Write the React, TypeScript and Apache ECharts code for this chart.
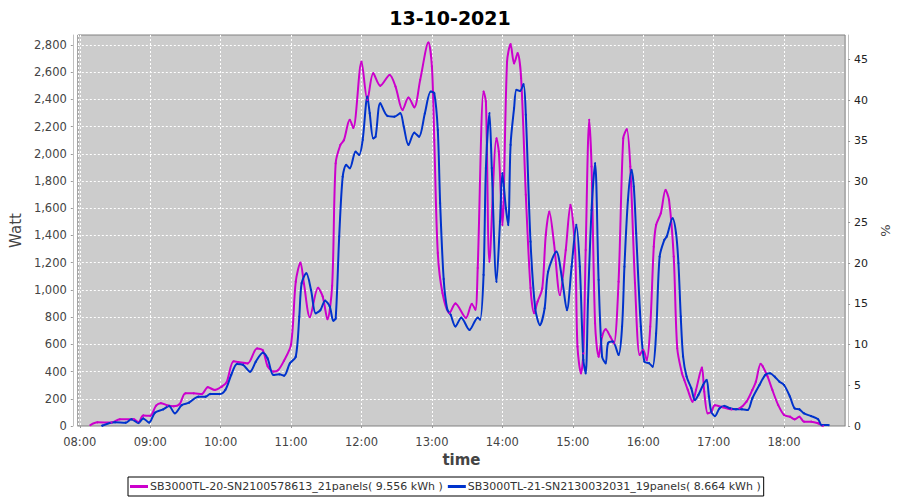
import React, { useEffect, useRef } from "react";
import * as echarts from "echarts";

const titleText = "13-10-2021";
const seriesNames = [
  "SB3000TL-20-SN2100578613_21panels( 9.556 kWh )",
  "SB3000TL-21-SN2130032031_19panels( 8.664 kWh )",
];
const wattTicks = { min: 0, max: 2873, interval: 200 };
const pctTicks = { min: 0, max: 48, interval: 5 };

const magentaTimes = [
  "08:09","08:15","08:27","08:34","08:46","08:50","08:54","09:00","09:05","09:09",
  "09:15","09:20","09:25","09:30","09:37","09:44","09:49","09:55","10:01","10:05",
  "10:11","10:15","10:23","10:31","10:36","10:40","10:45","10:49","10:54","11:00",
  "11:04","11:08","11:11","11:16","11:23","11:27","11:31","11:35","11:38","11:42",
  "11:45","11:50","11:53","12:00","12:05","12:10","12:16","12:24","12:29","12:35",
  "12:40","12:45","12:50","12:57","13:00","13:02","13:05","13:09","13:15","13:20",
  "13:29","13:34","13:37","13:39","13:44","13:46","13:49","13:55","13:57","14:00",
  "14:04","14:07","14:10","14:13","14:16","14:20","14:24","14:27","14:30","14:34",
  "14:37","14:40","14:44","14:49","14:54","14:58","15:02","15:04","15:07","15:09",
  "15:11","15:14","15:16","15:19","15:22","15:25","15:28","15:32","15:35","15:39",
  "15:43","15:46","15:49","15:53","15:57","16:00","16:03","16:06","16:09","16:11",
  "16:15","16:19","16:22","16:26","16:29","16:33","16:35","16:38","16:42","16:45",
  "16:50","16:52","16:55","16:58","17:01","17:08","17:15","17:22","17:28","17:33",
  "17:36","17:40","17:42","17:46","17:50","17:55","18:00","18:05","18:09","18:13",
  "18:17","18:23","18:29","18:33",
];
const magentaWatts = [
  7, 27, 25, 49, 50, 27, 77, 75, 150, 168,
  150, 145, 160, 240, 240, 235, 285, 265, 290, 320,
  475, 470, 460, 570, 555, 440, 400, 410, 480, 600,
  1060, 1200, 1045, 800, 1015, 950, 785, 1030, 1930, 2065,
  2100, 2250, 2190, 2677, 2396, 2592, 2500, 2580, 2494, 2322,
  2413, 2342, 2543, 2817, 2640, 2102, 1271, 977, 830, 900,
  795, 897, 855, 1161, 2457, 2383, 1208, 2114, 2016, 1477,
  2677, 2805, 2665, 2739, 2555, 1698, 1014, 830, 914, 1012,
  1404, 1575, 1343, 963, 1293, 1624, 1293, 583, 387, 534,
  1293, 2249, 1906, 755, 509, 656, 710, 656, 608, 1060,
  2114, 2180, 1906, 1049, 522, 559, 485, 730, 1318, 1477,
  1563, 1734, 1661, 1244, 571, 387, 338, 265, 179, 265,
  429, 252, 93, 105, 152, 137, 123, 130, 179, 265,
  326, 456, 436, 362, 265, 154, 81, 68, 49, 68,
  32, 32, 20, 0,
];

const blueTimes = [
  "08:19","08:30","08:39","08:44","08:50","08:54","08:59","09:04","09:11","09:16",
  "09:21","09:27","09:33","09:41","09:47","09:51","09:59","10:04","10:09","10:14",
  "10:19","10:25","10:30","10:36","10:40","10:45","10:50","10:54","10:59","11:04",
  "11:07","11:09","11:13","11:17","11:21","11:25","11:29","11:33","11:36","11:38",
  "11:41","11:44","11:47","11:50","11:55","11:58","12:01","12:05","12:07","12:10",
  "12:12","12:16","12:22","12:28","12:33","12:36","12:40","12:45","12:49","12:54",
  "12:59","13:02","13:05","13:07","13:10","13:13","13:16","13:20","13:25","13:32",
  "13:39","13:41","13:44","13:46","13:49","13:51","13:55","13:58","14:00","14:03",
  "14:05","14:07","14:10","14:12","14:15","14:18","14:20","14:24","14:28","14:32",
  "14:36","14:39","14:46","14:51","14:55","14:59","15:03","15:06","15:09","15:11",
  "15:13","15:16","15:19","15:22","15:25","15:28","15:30","15:34","15:39","15:42",
  "15:44","15:47","15:50","15:52","15:54","15:58","16:01","16:05","16:08","16:11",
  "16:14","16:18","16:20","16:25","16:28","16:30","16:32","16:34","16:37","16:41",
  "16:44","16:47","16:51","16:54","16:56","16:58","17:01","17:05","17:09","17:14",
  "17:19","17:24","17:29","17:33","17:39","17:44","17:48","17:52","17:56","18:00",
  "18:05","18:09","18:13","18:17","18:23","18:29","18:32","18:38",
];
const blueWatts = [
  2, 27, 24, 49, 22, 56, 25, 98, 122, 147,
  93, 154, 171, 215, 215, 235, 235, 265, 375, 456,
  450, 399, 473, 539, 497, 375, 380, 370, 461, 509,
  803, 1049, 1122, 999, 828, 852, 921, 877, 774, 790,
  1391, 1832, 1918, 1894, 2016, 1992, 2102, 2420, 2298, 2114,
  2126, 2371, 2278, 2273, 2298, 2200, 2065, 2155, 2126, 2298,
  2457, 2445, 2175, 1637, 1080, 860, 816, 732, 796, 706,
  796, 782, 1110, 1894, 2298, 1894, 1060, 1501, 1857, 1600,
  1477, 2065, 2335, 2469, 2462, 2511, 2286, 1354, 865, 742,
  865, 1134, 1281, 1073, 852, 1171, 1477, 1171, 485, 387,
  926, 1587, 1930, 1073, 509, 461, 608, 620, 522, 730,
  1171, 1661, 1881, 1759, 1416, 730, 473, 461, 436, 681,
  1244, 1367, 1391, 1526, 1416, 1196, 803, 509, 362, 277,
  191, 228, 301, 338, 216, 105, 73, 130, 147, 130,
  123, 123, 118, 204, 301, 375, 387, 362, 326, 301,
  216, 130, 123, 93, 73, 49, 7, 7,
];

const ts = (s: string, sec = 0) => {
  const [h, m] = s.split(":").map(Number);
  return new Date(2021, 9, 13, h, m, sec).getTime();
};

const FONT = "DejaVu Sans";

export default function App() {
  const ref = useRef<HTMLDivElement>(null);
  useEffect(() => {
    document.body.style.margin = "0";
    if (!ref.current) return;
    const chart = echarts.init(ref.current, undefined, { renderer: "svg" });
    const mData = magentaTimes.map((t, i) => [ts(t), magentaWatts[i]]);
    const bData = blueTimes.map((t, i) => [ts(t), blueWatts[i]]);
    chart.setOption({
      animation: false,
      backgroundColor: "#ffffff",
      textStyle: { fontFamily: FONT },
      title: {
        text: titleText,
        left: "center",
        top: 3,
        textStyle: { fontFamily: FONT, fontSize: 19, fontWeight: "bold", color: "#000" },
      },
      grid: {
        left: 76,
        right: 54,
        top: 35,
        bottom: 74,
        show: true,
        backgroundColor: "#cccccc",
        borderColor: "#808080",
        borderWidth: 1,
      },
      legend: {
        left: 128,
        top: 477,
        orient: "horizontal",
        backgroundColor: "#ffffff",
        borderColor: "#000000",
        borderWidth: 1,
        padding: [4, 3, 4, 2],
        itemGap: 5,
        itemWidth: 18,
        itemHeight: 3,
        icon: "rect",
        textStyle: { fontFamily: FONT, fontSize: 11, color: "#333", padding: [0, 0, 0, -3] },
        data: seriesNames,
      },
      xAxis: {
        type: "time",
        min: ts("07:58", 20),
        max: ts("18:52"),
        minInterval: 3600000,
        maxInterval: 3600000,
        offset: 4,
        name: "time",
        nameLocation: "middle",
        nameGap: 22,
        nameTextStyle: { fontFamily: FONT, fontSize: 15, fontWeight: "bold", color: "#444" },
        axisLine: { show: true, lineStyle: { color: "#c0c0c0" } },
        axisTick: { show: true, length: 2, lineStyle: { color: "#999" } },
        axisLabel: {
          formatter: "{HH}:{mm}",
          fontFamily: FONT,
          fontSize: 11.5,
          color: "#444",
          margin: 6,
        },
        splitLine: {
          show: true,
          showMaxLine: false,
          lineStyle: { color: "#ffffff", type: [2, 2], width: 1 },
        },
      },
      yAxis: [
        {
          type: "value",
          min: wattTicks.min,
          max: wattTicks.max,
          interval: wattTicks.interval,
          offset: 5,
          name: "Watt",
          nameLocation: "middle",
          nameGap: 40,
          nameTextStyle: { fontFamily: FONT, fontSize: 15, color: "#444" },
          axisLine: { show: true, lineStyle: { color: "#c0c0c0" } },
          axisTick: { show: true, length: 2, lineStyle: { color: "#999" } },
          axisLabel: {
            fontFamily: FONT,
            fontSize: 11.5,
            color: "#444",
            margin: 6,
            showMaxLabel: false,
            formatter: (v: number) => v.toLocaleString("en-US"),
          },
          splitLine: {
            show: true,
            showMaxLine: false,
            lineStyle: { color: "#ffffff", type: [2, 2], width: 1 },
          },
        },
        {
          type: "value",
          position: "right",
          min: pctTicks.min,
          max: pctTicks.max,
          interval: pctTicks.interval,
          offset: 3,
          name: "%",
          nameLocation: "middle",
          nameGap: 22,
          nameTextStyle: { fontFamily: FONT, fontSize: 13, color: "#444" },
          axisLine: { show: true, lineStyle: { color: "#c0c0c0" } },
          axisTick: { show: true, length: 2, lineStyle: { color: "#999" } },
          axisLabel: { fontFamily: FONT, fontSize: 11, color: "#222", margin: 6, showMaxLabel: false },
          splitLine: { show: false },
        },
      ],
      series: [
        {
          name: seriesNames[0],
          type: "line",
          data: mData,
          smooth: 0.3,
          symbol: "circle",
          symbolSize: 2,
          showSymbol: true,
          itemStyle: { color: "#cc00cc" },
          lineStyle: { color: "#cc00cc", width: 2 },
        },
        {
          name: seriesNames[1],
          type: "line",
          data: bData,
          smooth: 0.3,
          symbol: "circle",
          symbolSize: 2,
          showSymbol: true,
          itemStyle: { color: "#0033cc" },
          lineStyle: { color: "#0033cc", width: 2 },
        },
      ],
    });
    return () => chart.dispose();
  }, []);
  return <div ref={ref} style={{ width: 900, height: 500 }} />;
}
